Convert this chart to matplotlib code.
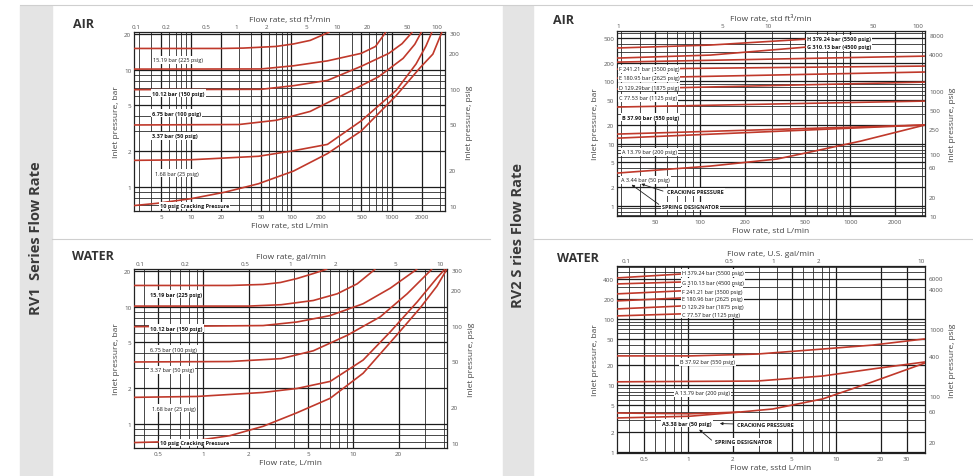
import matplotlib.pyplot as plt
from matplotlib.lines import Line2D
from matplotlib.patches import Rectangle
from matplotlib.ticker import LogLocator, NullFormatter, NullLocator

plt.rcParams['font.family'] = ['Open Sans', 'DejaVu Sans']

RED = '#c0392b'
W, H = 973, 477

# ---------------- RV1 air: flow std L/min -> inlet pressure bar
rv1_air_flow = [
    [2.7, 20, 33, 70, 105, 154, 240],
    [2.7, 50, 105, 229, 498, 690, 875],
    [2.7, 50, 105, 229, 498, 937, 1270, 1610],
    [2.7, 30, 71, 154, 342, 740, 1300, 1700, 1980],
    [2.7, 10, 47, 105, 229, 498, 1107, 1750, 2200, 2520],
    [2.7, 4.5, 10, 22, 47, 105, 229, 498, 1107, 1900, 2575, 3170],
]
rv1_air_bar = [
    [15.19, 15.19, 15.3, 15.8, 16.6, 17.8, 21],
    [10.12, 10.15, 10.8, 11.9, 13.8, 15.8, 21],
    [6.75, 6.8, 7.3, 8.1, 10.7, 13.8, 16.7, 21],
    [3.37, 3.4, 3.7, 4.4, 6.2, 8.7, 12.5, 16.5, 21],
    [1.68, 1.7, 1.82, 2.03, 2.3, 3.66, 6.65, 11.2, 16, 21],
    [0.69, 0.72, 0.79, 0.9, 1.06, 1.36, 1.92, 3.0, 6.0, 10.3, 13.6, 21],
]

# ---------------- RV1 water: flow L/min -> inlet pressure bar
rv1_water_flow = [
    [0.345, 1.5, 2.5, 3.26, 4.2, 5.4, 6.7],
    [0.345, 2.0, 3.3, 5.4, 7.8, 10.6, 14.0],
    [0.345, 2.5, 4.2, 7.0, 11.6, 17.6, 26.6],
    [0.345, 1.5, 3.3, 5.4, 9.1, 15.1, 22.8, 33.4],
    [0.345, 0.91, 2.5, 4.2, 7.0, 11.6, 17.6, 26.6, 36.0, 40.8],
    [0.345, 0.54, 0.91, 1.5, 2.5, 4.2, 7.0, 11.6, 19.6, 27.9, 36.0, 42],
]
rv1_water_bar = [
    [15.19, 15.19, 15.5, 16.1, 17.4, 19.2, 21],
    [10.12, 10.12, 10.4, 11.3, 12.9, 15.7, 21],
    [6.75, 6.9, 7.4, 8.4, 10.6, 14.4, 21],
    [3.37, 3.4, 3.6, 4.2, 5.7, 8.2, 12.9, 21],
    [1.68, 1.71, 1.85, 2.0, 2.3, 3.5, 6.1, 11.0, 17.6, 21],
    [0.69, 0.7, 0.72, 0.79, 0.95, 1.24, 1.65, 2.7, 5.8, 9.8, 15, 21],
]

rv1_labels = ['15.19 bar (225 psig)', '10.12 bar (150 psig)', '6.75 bar (100 psig)',
              '3.37 bar (50 psig)', '1.68 bar (25 psig)', '10 psig Cracking Pressure']

# ---------------- RV2 air: flow std L/min -> inlet pressure bar
rv2_air_flow = [
    [28, 117, 517],
    [28, 117, 517],
    [28, 3150],
    [28, 3150],
    [28, 3150],
    [28, 3150],
    [28, 3150],
    [28, 3150],
    [28, 3150],
    [28, 117, 326, 542, 1167, 3150],
]
rv2_air_bar = [
    [346, 386, 481],
    [238, 266, 359],
    [205, 256],
    [158, 177],
    [113, 142],
    [75.4, 97.7],
    [38.7, 48.3],
    [14.2, 19.9],
    [12.2, 19.9],
    [3.34, 4.33, 5.63, 7.3, 10.9, 19.9],
]
rv2_air_labels = ['H 379.24 bar (5500 psig)', 'G 310.13 bar (4500 psig)',
                  'F 241.21 bar (3500 psig)', 'E 180.95 bar (2625 psig)',
                  'D 129.29bar (1875 psig)', 'C 77.53 bar (1125 psig)',
                  'B 37.90 bar (550 psig)', 'A 13.79 bar (200 psig)',
                  'A 3.44 bar (50 psig)', 'CRACKING PRESSURE', 'SPRING DESIGNATOR']

# ---------------- RV2 water: flow L/min -> inlet pressure bar
rv2_water_flow = [
    [0.33, 0.9],
    [0.33, 0.9],
    [0.33, 0.9],
    [0.33, 0.9],
    [0.33, 0.9],
    [0.33, 0.9],
    [0.33, 1.03, 2.92, 8.14, 17.7, 40],
    [0.33, 2.92, 8.14, 17.7, 40],
    [0.33, 1.03, 2.24, 3.74, 8.14, 17.7, 40],
    [0.33, 1.03, 2.24],
]
rv2_water_bar = [
    [410, 470],
    [333, 356],
    [236, 262],
    [185, 205],
    [140, 155],
    [110, 118],
    [27.5, 27.5, 29.3, 34.9, 40.0, 49.6],
    [11.2, 11.5, 13.7, 17.5, 22.3],
    [3.8, 3.7, 3.93, 4.37, 6.2, 11.2, 21.5],
    [3.2, 3.4, 3.93],
]
rv2_water_labels = ['H 379.24 bar (5500 psig)', 'G 310.13 bar (4500 psig)',
                    'F 241.21 bar (3500 psig)', 'E 180.96 bar (2625 psig)',
                    'D 129.29 bar (1875 psig)', 'C 77.57 bar (1125 psig)',
                    'B 37.92 bar (550 psig)', 'A 13.79 bar (200 psig)',
                    'A3.38 bar (50 psig)', 'CRACKING PRESSURE', 'SPRING DESIGNATOR']

# axis ticks
rv1_air_x = [5, 10, 20, 50, 100, 200, 500, 1000, 2000]
rv1_air_top = [0.1, 0.2, 0.5, 1, 2, 5, 10, 20, 50, 100]
rv1_water_x = [0.5, 1, 2, 5, 10, 20]
rv1_water_top = [0.1, 0.2, 0.5, 1, 2, 5, 10]
rv1_bar = [1, 2, 5, 10, 20]
rv1_psig = [10, 20, 50, 100, 200, 300]
rv2_air_x = [50, 100, 200, 500, 1000, 2000]
rv2_air_top = [1, 5, 10, 50, 100]
rv2_air_yl = [1, 2, 5, 10, 20, 50, 100, 200, 500]
rv2_air_psig = [10, 20, 60, 100, 250, 500, 1000, 4000, 8000]
rv2_water_x = [0.5, 1, 2, 5, 10, 20, 30]
rv2_water_top = [0.1, 0.5, 1, 2, 10]
rv2_water_yl = [1, 2, 5, 10, 20, 50, 100, 200, 400]
rv2_water_psig = [20, 60, 100, 400, 1000, 4000, 6000]

PSI = 14.5038


def px_rect(x0, y0, x1, y1):
    return [x0 / W, 1 - y1 / H, (x1 - x0) / W, (y1 - y0) / H]


def fmt(vals):
    return [f'{v:g}' for v in vals]


def draw_panel(fig, rect, flows, bars, xlim, ylim, xt, yt, top_t, top_f, right_t,
               top_label, bottom_label):
    ax = fig.add_axes(rect)
    ax.set_xscale('log')
    ax.set_yscale('log')
    for q, p in zip(flows, bars):
        ax.plot(q, p, color=RED, lw=1.2, zorder=3, solid_capstyle='butt')
    ax.set_xlim(xlim)
    ax.set_ylim(ylim)
    ax.set_xticks(xt, fmt(xt))
    ax.set_yticks(yt, fmt(yt))
    for axis in (ax.xaxis, ax.yaxis):
        axis.set_minor_locator(LogLocator(base=10, subs=range(2, 10), numticks=60))
        axis.set_minor_formatter(NullFormatter())
    ax.grid(which='major', color='#1c1c1c', lw=0.9)
    ax.grid(which='minor', color='#2a2a2a', lw=0.6)
    ax.set_axisbelow(True)
    for s in ax.spines.values():
        s.set_color('#222')
        s.set_linewidth(0.9)
    ax.tick_params(which='both', length=0, labelsize=4.5, pad=2, colors='#555')
    ax.set_xlabel(bottom_label, fontsize=6, color='#444', labelpad=2)
    ax.set_ylabel('Inlet pressure, bar', fontsize=6, color='#444', labelpad=3)

    # top axis: same flow in the other unit
    top = ax.twiny()
    top.set_xscale('log')
    top.set_xlim(xlim[0] / top_f, xlim[1] / top_f)
    top.set_xticks(top_t, fmt(top_t))
    top.xaxis.set_minor_locator(NullLocator())
    top.tick_params(length=0, labelsize=4.5, pad=2, colors='#555')
    top.set_xlabel(top_label, fontsize=6, color='#444', labelpad=2)

    # right axis: same pressure in psig
    right = ax.twinx()
    right.set_yscale('log')
    right.set_ylim(ylim[0] * PSI, ylim[1] * PSI)
    right.set_yticks(right_t, fmt(right_t))
    right.yaxis.set_minor_locator(NullLocator())
    right.tick_params(length=0, labelsize=4.5, pad=3, colors='#555')
    right.set_ylabel('Inlet pressure, psig', fontsize=6, color='#444', labelpad=4)
    for t in (top, right):
        for s in t.spines.values():
            s.set_visible(False)
    return ax


def put_labels(ax, texts, spots, bold):
    for s, (x, y), b in zip(texts, spots, bold):
        ax.text(x, y, s, transform=ax.transAxes, fontsize=4, va='center', ha='left',
                color='#1a1a1a', weight='bold' if b else 'normal', zorder=5,
                bbox=dict(fc='white', ec='none', pad=0.8))


fig = plt.figure(figsize=(W / 100, H / 100), dpi=100)

# side bands and separators
fig.add_artist(Rectangle((20 / W, 0), 32 / W, 1 - 7 / H, transform=fig.transFigure,
                         color='#e4e4e4', zorder=0))
fig.add_artist(Rectangle((503 / W, 0), 30 / W, 1 - 7 / H, transform=fig.transFigure,
                         color='#e4e4e4', zorder=0))
fig.add_artist(Line2D([20 / W, 1], [1 - 6 / H] * 2, color='#cfcfcf', lw=0.8))
fig.add_artist(Line2D([52 / W, 490 / W], [1 - 240 / H] * 2, color='#cfcfcf', lw=0.8))
fig.add_artist(Line2D([533 / W, 1], [1 - 240 / H] * 2, color='#cfcfcf', lw=0.8))

fig.text(36 / W, 1 - 238 / H, 'RV1  Series Flow Rate', rotation=90, ha='center',
         va='center', fontsize=10.5, weight='bold', color='#3a3a3a')
fig.text(518 / W, 1 - 235 / H, 'RV2 S ries Flow Rate', rotation=90, ha='center',
         va='center', fontsize=10.5, weight='bold', color='#3a3a3a')

for (x, y, s) in [(73, 25, 'AIR'), (72, 257, 'WATER'), (553, 20, 'AIR'), (557, 258, 'WATER')]:
    fig.text(x / W, 1 - y / H, s, fontsize=9, weight='bold', color='#333', va='center')

# RV1 air
ax1 = draw_panel(fig, px_rect(134, 33, 445, 212), rv1_air_flow, rv1_air_bar,
                 (2.7, 3400), (0.62, 21), rv1_air_x, rv1_bar, rv1_air_top, 28.317,
                 rv1_psig, 'Flow rate, std ft³/min', 'Flow rate, std L/min')
put_labels(ax1, rv1_labels,
           [(0.061, 0.844), (0.058, 0.659), (0.058, 0.547), (0.058, 0.419),
            (0.068, 0.212), (0.084, 0.03)],
           [False, True, True, True, False, True])

# RV1 water
ax2 = draw_panel(fig, px_rect(134, 270, 447, 449), rv1_water_flow, rv1_water_bar,
                 (0.345, 42), (0.62, 21), rv1_water_x, rv1_bar, rv1_water_top, 3.785,
                 rv1_psig, 'Flow rate, gal/min', 'Flow rate, L/min')
put_labels(ax2, rv1_labels,
           [(0.051, 0.86), (0.051, 0.67), (0.051, 0.553), (0.051, 0.436),
            (0.058, 0.223), (0.083, 0.03)],
           [True, True, False, False, False, True])

# RV2 air
ax3 = draw_panel(fig, px_rect(617, 32, 925, 217), rv2_air_flow, rv2_air_bar,
                 (28, 3150), (0.68, 650), rv2_air_x, rv2_air_yl, rv2_air_top, 28.317,
                 rv2_air_psig, 'Flow rate, std ft³/min', 'Flow rate, std L/min')
put_labels(ax3, rv2_air_labels,
           [(0.617, 0.957), (0.617, 0.914), (0.006, 0.795), (0.006, 0.746),
            (0.006, 0.697), (0.006, 0.638), (0.016, 0.535), (0.016, 0.346),
            (0.013, 0.195), (0.162, 0.13), (0.146, 0.054)],
           [True, True, False, False, False, False, True, False, False, True, True])
ax3.annotate('', xy=(0.07, 0.178), xytext=(0.158, 0.13), xycoords='axes fraction',
             arrowprops=dict(arrowstyle='-|>', lw=0.6, color='#222', mutation_scale=4), zorder=6)
ax3.annotate('', xy=(0.04, 0.178), xytext=(0.143, 0.054), xycoords='axes fraction',
             arrowprops=dict(arrowstyle='-|>', lw=0.6, color='#222', mutation_scale=4), zorder=6)

# RV2 water
ax4 = draw_panel(fig, px_rect(617, 267, 925, 454), rv2_water_flow, rv2_water_bar,
                 (0.33, 40), (0.95, 620), rv2_water_x, rv2_water_yl, rv2_water_top, 3.785,
                 rv2_water_psig, 'Flow rate, U.S. gal/min', 'Flow rate, sstd L/min')
put_labels(ax4, rv2_water_labels,
           [(0.211, 0.963), (0.211, 0.914), (0.211, 0.866), (0.211, 0.824),
            (0.211, 0.781), (0.211, 0.743), (0.205, 0.487), (0.188, 0.321),
            (0.146, 0.16), (0.39, 0.15), (0.318, 0.059)],
           [False, False, False, False, False, False, False, False, True, True, True])
ax4.annotate('', xy=(0.325, 0.158), xytext=(0.385, 0.155), xycoords='axes fraction',
             arrowprops=dict(arrowstyle='-|>', lw=0.6, color='#222', mutation_scale=4), zorder=6)
ax4.annotate('', xy=(0.26, 0.135), xytext=(0.314, 0.059), xycoords='axes fraction',
             arrowprops=dict(arrowstyle='-|>', lw=0.6, color='#222', mutation_scale=4), zorder=6)

fig.savefig('out.png', dpi=100)
